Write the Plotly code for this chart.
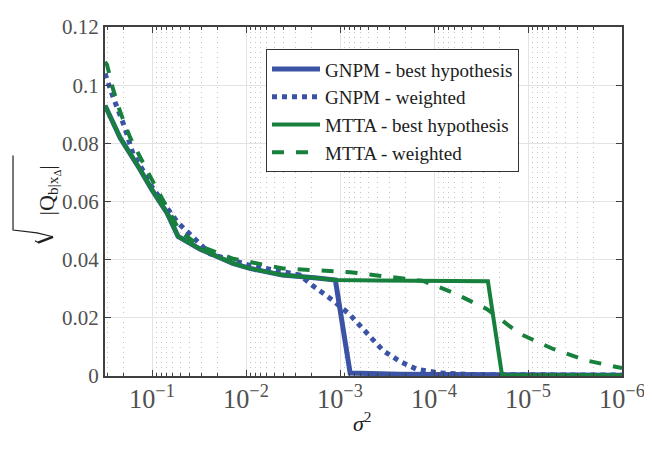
import plotly.graph_objects as go

# sigma^2 samples and sqrt|Q| values
best_s2 = [0.316, 0.219, 0.134, 0.1, 0.069, 0.0528, 0.031, 0.0204, 0.0138, 0.0091, 0.0041, 0.00176, 0.00112]
best_q = [0.093, 0.082, 0.071, 0.064, 0.056, 0.048, 0.0437, 0.041, 0.0387, 0.037, 0.0347, 0.0337, 0.033]

gnpm_tail_s2 = [7.8e-4, 2.3e-4, 2e-5, 1e-6]
gnpm_tail_q = [0.001, 0.0006, 0.0004, 0.0003]

mtta_tail_s2 = [4e-4, 1e-4, 2.67e-5, 1.89e-5, 1e-6]
mtta_tail_q = [0.0328, 0.0327, 0.0326, 0.0003, 0.0003]

gnpm_w_s2 = [0.316, 0.28, 0.26, 0.194, 0.159, 0.128, 0.1, 0.054, 0.0241, 0.00906, 0.00404, 0.00267,
             0.00194, 0.00119, 7.8e-4, 5.2e-4, 3.5e-4, 2.3e-4, 1.52e-4, 8.6e-5, 4.1e-5, 1e-6]
gnpm_w_q = [0.104, 0.0997, 0.096, 0.0853, 0.0763, 0.0713, 0.065, 0.053, 0.042, 0.038, 0.036, 0.0347,
            0.031, 0.026, 0.021, 0.0147, 0.0088, 0.005, 0.0023, 0.001, 0.0005, 0.0003]

mtta_w_s2 = [0.316, 0.301, 0.26, 0.219, 0.171, 0.134, 0.105, 0.0504, 0.031, 0.0137, 0.00404, 7.8e-4,
             3.75e-4, 1.31e-4, 6.3e-5, 2.73e-5, 1.22e-5, 5.4e-6, 2.36e-6, 1e-6]
mtta_w_q = [0.108, 0.107, 0.0987, 0.091, 0.082, 0.0753, 0.0687, 0.0497, 0.0447, 0.0403, 0.037, 0.0357,
            0.0345, 0.0327, 0.0287, 0.023, 0.0145, 0.0093, 0.0053, 0.0027]

BLUE = "#3A53A4"
GREEN = "#17803D"
FONT = "Liberation Serif, Times New Roman, serif"
AX = "#404040"

# plot area in page pixels (page body adds an 8px offset)
L, T, R, B = 97, 7, 38, 84
PW, PH = 652 - L - R, 452 - T - B


def px(x, y):
    # page pixel -> paper coords
    return (x - 8 - L) / PW, 1 - (y - 8 - T) / PH


def path_of(points):
    return "M " + " L ".join(f"{a:.4f},{b:.4f}" for a, b in (px(x, y) for x, y in points))


fig = go.Figure()

fig.add_trace(go.Scatter(x=best_s2 + gnpm_tail_s2, y=best_q + gnpm_tail_q, mode="lines",
                         line=dict(color=BLUE, width=5), name="GNPM - best hypothesis"))
fig.add_trace(go.Scatter(x=gnpm_w_s2, y=gnpm_w_q, mode="lines",
                         line=dict(color=BLUE, width=5, dash="dot"), name="GNPM - weighted"))
fig.add_trace(go.Scatter(x=best_s2 + mtta_tail_s2, y=best_q + mtta_tail_q, mode="lines",
                         line=dict(color=GREEN, width=4), name="MTTA - best hypothesis"))
fig.add_trace(go.Scatter(x=mtta_w_s2, y=mtta_w_q, mode="lines",
                         line=dict(color=GREEN, width=4, dash="dash"), name="MTTA - weighted"))

axis_common = dict(
    showline=True, linecolor=AX, linewidth=2, mirror="allticks",
    ticks="inside", ticklen=6, tickcolor=AX, tickwidth=1,
    showgrid=True, gridcolor="#E3E3E3", gridwidth=1,
    zeroline=False, ticklabeloverflow="allow",
    tickfont=dict(family=FONT, size=21, color="#505050"),
)

fig.update_xaxes(
    type="log", range=[-0.5, -6], dtick=1, exponentformat="power",
    minor=dict(ticks="inside", ticklen=3, tickcolor=AX, showgrid=True,
               gridcolor="#C4C4C4", griddash="1px,4px", gridwidth=1),
    **axis_common,
)
fig.update_yaxes(range=[0, 0.12], dtick=0.02, **axis_common)

# y title: |Q_{b|x_Δ}| under a square root, rotated
tx, ty = px(32, 184)
fig.add_annotation(
    text="|Q<sub>b|x<sub>Δ</sub></sub>|",
    xref="paper", yref="paper", x=tx, y=ty, textangle=-90, showarrow=False,
    font=dict(family=FONT, size=22, color="#202020"),
)
# radical sign: thin stroke + overline, then the thick short stroke
fig.add_shape(type="path", path=path_of([(53, 232), (37, 228), (13, 225), (13, 148)]),
              xref="paper", yref="paper", line=dict(color="#202020", width=1.2))
fig.add_shape(type="path", path=path_of([(38, 238), (53, 232)]),
              xref="paper", yref="paper", line=dict(color="#202020", width=2.4))
fig.add_shape(type="path", path=path_of([(35, 236), (38, 238)]),
              xref="paper", yref="paper", line=dict(color="#202020", width=1.2))

sx, sy = px(362, 440)
fig.add_annotation(
    text="<i>σ</i><sup>2</sup>", xref="paper", yref="paper", x=sx, y=sy,
    showarrow=False, font=dict(family=FONT, size=22, color="#202020"),
)

lx, ly = px(266, 38)
fig.update_layout(
    width=652, height=452,
    margin=dict(l=L, r=R, t=T, b=B),
    paper_bgcolor="white", plot_bgcolor="white",
    showlegend=True,
    legend=dict(x=lx, y=ly, xanchor="left", yanchor="top",
                bgcolor="white", bordercolor="#333333", borderwidth=1,
                font=dict(family=FONT, size=19, color="#202020"),
                itemwidth=48, tracegroupgap=0),
)

fig.write_html("out.html")
